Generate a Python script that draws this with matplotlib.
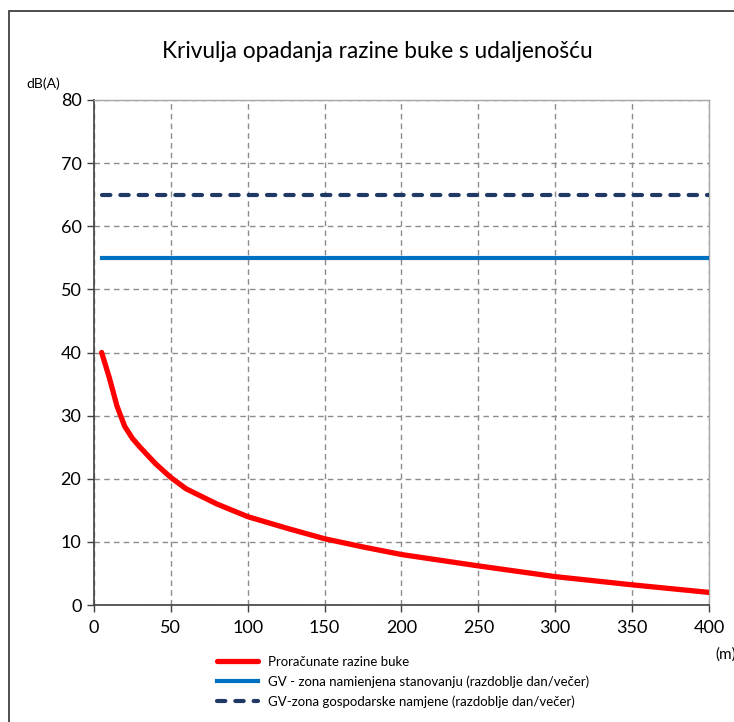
import matplotlib
matplotlib.use("Agg")
import matplotlib.pyplot as plt
import matplotlib.patches as mpatches

# udaljenost (m) i proracunate razine buke dB(A)
udaljenost = [5, 10, 15, 20, 25, 30, 40, 50, 60, 80, 100, 125, 150, 175,
              200, 250, 300, 350, 400]
razina = [40, 36, 31.5, 28.3, 26.4, 25, 22.4, 20.2, 18.4, 16, 14, 12.2,
          10.5, 9.2, 8.0, 6.2, 4.5, 3.2, 2.0]

# granicne vrijednosti
gv_x = [5, 400]
gv_stanovanje = [55, 55]
gv_gospodarska = [65, 65]

naslov = "Krivulja opadanja razine buke s udaljenošću"
legenda = ["Proračunate razine buke",
           "GV - zona namienjena stanovanju (razdoblje dan/večer)",
           "GV-zona gospodarske namjene (razdoblje dan/večer)"]

plt.rcParams['font.family'] = ['Lato', 'DejaVu Sans']

fig = plt.figure(figsize=(7.34, 7.22), dpi=100)
ax = fig.add_axes([0.128, 0.162, 0.838, 0.6995])

# okvir oko slike
frame = mpatches.Rectangle((9 / 734, -0.1), 1.2, 1 - 11 / 722 + 0.1,
                           transform=fig.transFigure, fill=False,
                           ec='#404040', lw=1.3)
fig.patches.append(frame)

l1, = ax.plot(udaljenost, razina, color='#FF0000', lw=3.8,
              solid_capstyle='round', solid_joinstyle='round', zorder=5)
l2, = ax.plot(gv_x, gv_stanovanje, color='#0070C0', lw=3, zorder=4)
l3, = ax.plot(gv_x, gv_gospodarska, color='#1F3864', lw=3,
              dashes=(2.0, 2.4), dash_capstyle='round', zorder=4)

ax.set_xlim(0, 400)
ax.set_ylim(0, 80)
ax.set_xticks(range(0, 401, 50))
ax.set_yticks(range(0, 81, 10))
ax.grid(True, color='#8c8c8c', ls=(0, (4, 3)), lw=1)
ax.tick_params(labelsize=13, length=5, width=1, color='#404040',
               labelcolor='black')
ax.tick_params(axis='x', pad=6)
ax.tick_params(axis='y', pad=4)
for s in ['left', 'bottom']:
    ax.spines[s].set_color('#404040')
    ax.spines[s].set_linewidth(1.2)
for s in ['top', 'right']:
    ax.spines[s].set_color('#a6a6a6')
    ax.spines[s].set_linewidth(1)

fig.text(0.5135, 0.929, naslov, ha='center', va='center', fontsize=16.3)
fig.text(26 / 734, 1 - 84 / 722, "dB(A)", ha='left', va='center',
         fontsize=10)
fig.text(715 / 734, 1 - 655 / 722, "(m)", ha='left', va='center',
         fontsize=11)

fig.legend([l1, l2, l3], legenda, loc='upper left',
           bbox_to_anchor=(0.2956, 1 - 656 / 722), frameon=False,
           fontsize=9.5, handlelength=3.1, handletextpad=0.75,
           labelspacing=0.55, borderpad=0, borderaxespad=0)

fig.savefig("out.png", dpi=100)
